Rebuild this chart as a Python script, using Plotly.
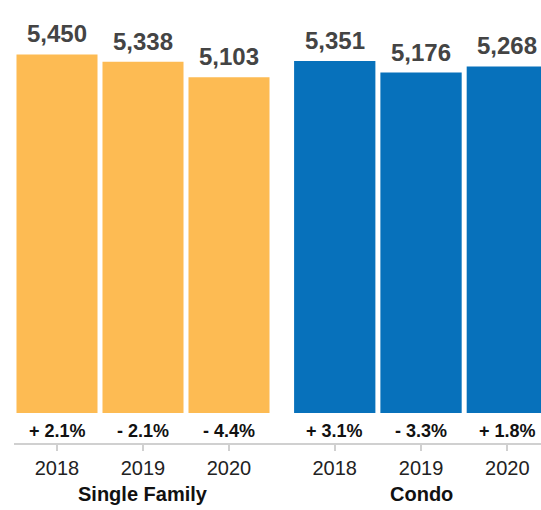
import plotly.graph_objects as go

years = ["2018", "2019", "2020"]
sf_values = [5450, 5338, 5103]
condo_values = [5351, 5176, 5268]
sf_change = ["+ 2.1%", "- 2.1%", "- 4.4%"]
condo_change = ["+ 3.1%", "- 3.3%", "+ 1.8%"]
group_names = ["Single Family", "Condo"]

SF_COLOR = "#FDBB53"
CONDO_COLOR = "#0771BB"
FONT = "Liberation Sans, Arial, Helvetica, sans-serif"

W, H = 541, 510

fig = go.Figure()
fig.add_trace(go.Bar(
    x=years, y=sf_values, marker=dict(color=SF_COLOR, line=dict(width=0)),
    xaxis="x", yaxis="y", showlegend=False, hoverinfo="skip",
))
fig.add_trace(go.Bar(
    x=years, y=condo_values, marker=dict(color=CONDO_COLOR, line=dict(width=0)),
    xaxis="x2", yaxis="y", showlegend=False, hoverinfo="skip",
))

annotations = []
for xref, values, changes in (("x", sf_values, sf_change), ("x2", condo_values, condo_change)):
    for i, (v, ch) in enumerate(zip(values, changes)):
        annotations.append(dict(
            x=i, y=v, xref=xref, yref="y", text=f"{v:,}", showarrow=False,
            yanchor="bottom", yshift=5,
            font=dict(family=FONT, size=24, color="#444444", weight="bold"),
        ))
        annotations.append(dict(
            x=i, y=0, xref=xref, yref="y", text=ch, showarrow=False,
            yanchor="middle", yshift=-18,
            font=dict(family=FONT, size=18, color="#111111", weight="bold"),
        ))
for xref, name in zip(("x", "x2"), group_names):
    annotations.append(dict(
        x=1, y=0, xref=xref, yref="paper", text=name, showarrow=False,
        yanchor="middle", yshift=-51,
        font=dict(family=FONT, size=20, color="#111111", weight="bold"),
    ))

axis_common = dict(
    type="category", showgrid=False, zeroline=False,
    showline=True, linecolor="#D0D0D0", linewidth=2,
    ticks="outside", ticklen=6, tickwidth=2, tickcolor="#D0D0D0",
    tickfont=dict(family=FONT, size=20, color="#222222"),
    fixedrange=True,
)

fig.update_layout(
    width=W, height=H,
    margin=dict(l=0, r=0, t=0, b=67),
    paper_bgcolor="white", plot_bgcolor="white",
    bargap=0.058,
    xaxis=dict(domain=[14 / W, 272 / W], range=[-0.5, 2.5], anchor="y", **axis_common),
    xaxis2=dict(domain=[272 / W, 1], range=[-0.727, 2.39], anchor="y", **axis_common),
    yaxis=dict(range=[-456, 6278], visible=False, showgrid=False, zeroline=False, fixedrange=True),
    annotations=annotations,
    font=dict(family=FONT),
)

fig.write_html(
    "out.html",
    config={"displayModeBar": False},
    post_script="document.body.style.margin='0';document.body.style.overflow='hidden';",
)
